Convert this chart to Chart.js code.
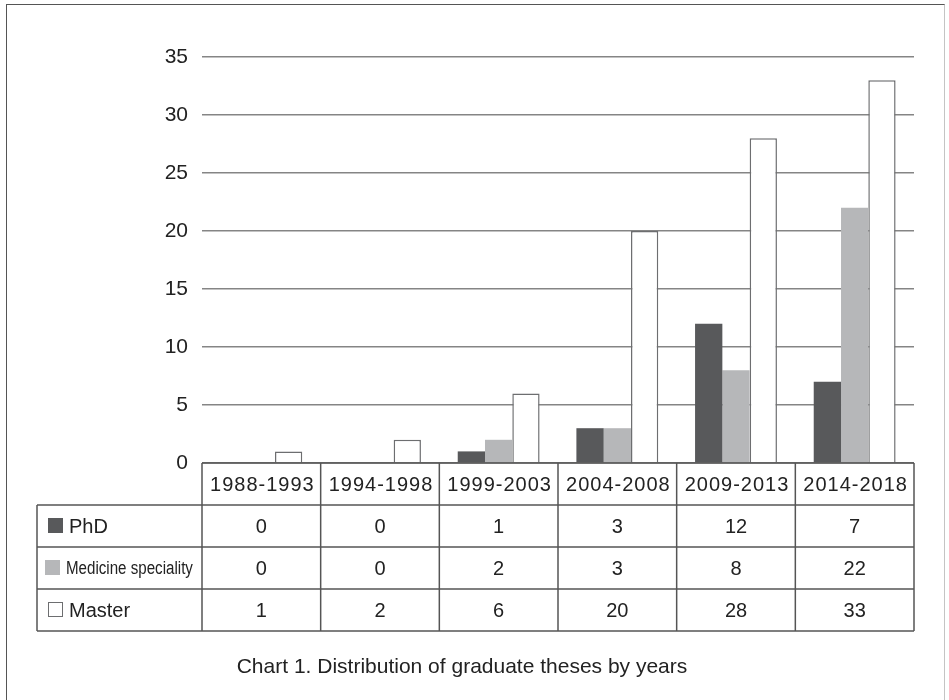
<!DOCTYPE html>
<html lang="en">
<head>
  <meta charset="UTF-8">
  <title>Chart 1. Distribution of graduate theses by years</title>
  <script src="https://cdn.jsdelivr.net/npm/chart.js"></script>
  <style>
    body {
      margin: 0;
      background-color: white;
      font-family: "Liberation Sans", Arial, sans-serif;
    }
    #wrap {
      position: relative;
      width: 949px;
      height: 700px;
      overflow: hidden;
    }
    #frame {
      position: absolute;
      left: 6px;
      top: 4px;
      width: 937px;
      height: 740px;
      border: 1.5px solid #555;
      border-right-color: #c4c4c4;
    }
    #caption {
      position: absolute;
      left: 0;
      width: 924px;
      top: 654px;
      text-align: center;
      font-size: 21px;
      color: #222;
    }
  </style>
</head>
<body>
  <div id="wrap">
    <div id="frame"></div>
    <canvas id="grafico"></canvas>
    <div id="caption">Chart 1. Distribution of graduate theses by years</div>
  </div>

  <script>
    const categories = ['1988-1993', '1994-1998', '1999-2003', '2004-2008', '2009-2013', '2014-2018'];
    const phd = [0, 0, 1, 3, 12, 7];
    const medicine = [0, 0, 2, 3, 8, 22];
    const master = [1, 2, 6, 20, 28, 33];
    const seriesNames = ['PhD', 'Medicine speciality', 'Master'];

    const lineColor = '#555';
    const textColor = '#222';

    // tabla de datos debajo del grafico, alineada con las categorias del eje x
    const tablePlugin = {
      id: 'dataTable',
      afterDraw(chart) {
        const ctx = chart.ctx;
        const a = chart.chartArea;
        const x = chart.scales.x;
        const y = chart.scales.y;
        const n = categories.length;
        const colW = (a.right - a.left) / n;
        const top = y.getPixelForValue(0);
        const rowH = 42;
        const labelLeft = 37;
        const sets = chart.data.datasets;
        const bottom = top + rowH * (sets.length + 1);

        ctx.save();
        ctx.strokeStyle = lineColor;
        ctx.lineWidth = 1.5;
        ctx.beginPath();
        // lineas horizontales
        ctx.moveTo(a.left, top);
        ctx.lineTo(a.right, top);
        for (let r = 1; r <= sets.length + 1; r++) {
          ctx.moveTo(labelLeft, top + r * rowH);
          ctx.lineTo(a.right, top + r * rowH);
        }
        // lineas verticales
        for (let i = 0; i <= n; i++) {
          const ex = a.left + i * colW;
          ctx.moveTo(ex, top);
          ctx.lineTo(ex, bottom);
        }
        ctx.moveTo(labelLeft, top + rowH);
        ctx.lineTo(labelLeft, bottom);
        ctx.stroke();

        ctx.fillStyle = textColor;
        ctx.font = '20px "Liberation Sans", Arial, sans-serif';
        ctx.textAlign = 'center';
        ctx.textBaseline = 'middle';
        ctx.letterSpacing = '1px';
        categories.forEach((c, i) => {
          ctx.fillText(c, x.getPixelForValue(i) + 1, top + rowH / 2 + 1);
        });
        ctx.letterSpacing = '0px';

        sets.forEach((ds, r) => {
          const cy = top + (r + 1.5) * rowH;
          ds.data.forEach((v, i) => {
            ctx.fillStyle = textColor;
            ctx.textAlign = 'center';
            ctx.fillText(String(v), x.getPixelForValue(i), cy + 1);
          });
          // muestra de color
          const sx = r === 1 ? 45 : 48;
          ctx.fillStyle = ds.backgroundColor;
          ctx.fillRect(sx, cy - 8, 15, 15);
          if (ds.borderWidth) {
            ctx.strokeStyle = ds.borderColor;
            ctx.lineWidth = 1;
            ctx.strokeRect(sx + 0.5, cy - 7.5, 14, 14);
          }
          ctx.fillStyle = textColor;
          ctx.textAlign = 'left';
          if (r === 1) {
            ctx.save();
            ctx.translate(66, cy + 1);
            ctx.scale(0.84, 1);
            ctx.font = '18px "Liberation Sans", Arial, sans-serif';
            ctx.fillText(ds.label, 0, 0);
            ctx.restore();
          } else {
            ctx.fillText(ds.label, sx + 21, cy + 1);
          }
        });
        ctx.restore();
      }
    };

    const ctx = document.getElementById('grafico').getContext('2d');
    new Chart(ctx, {
      type: 'bar',
      data: {
        labels: categories,
        datasets: [
          { label: seriesNames[0], data: phd, backgroundColor: '#58595b', borderWidth: 0 },
          { label: seriesNames[1], data: medicine, backgroundColor: '#b6b7b9', borderWidth: 0 },
          { label: seriesNames[2], data: master, backgroundColor: '#ffffff', borderColor: '#6d6e70', borderWidth: 1.5 }
        ]
      },
      options: {
        responsive: true,
        maintainAspectRatio: false,
        animation: false,
        categoryPercentage: 0.69,
        barPercentage: 1.0,
        layout: { padding: { left: 0, top: 57, right: 35, bottom: 237 } },
        plugins: {
          legend: { display: false },
          tooltip: { enabled: false }
        },
        scales: {
          x: { display: false },
          y: {
            min: 0,
            max: 35,
            afterFit(scale) { scale.width = 202; },
            border: { display: false },
            grid: { color: '#858585', lineWidth: 1.5, drawTicks: false },
            ticks: {
              stepSize: 5,
              padding: 14,
              color: textColor,
              font: { size: 21, family: '"Liberation Sans", Arial, sans-serif' }
            }
          }
        }
      },
      plugins: [tablePlugin]
    });
  </script>
</body>
</html>
